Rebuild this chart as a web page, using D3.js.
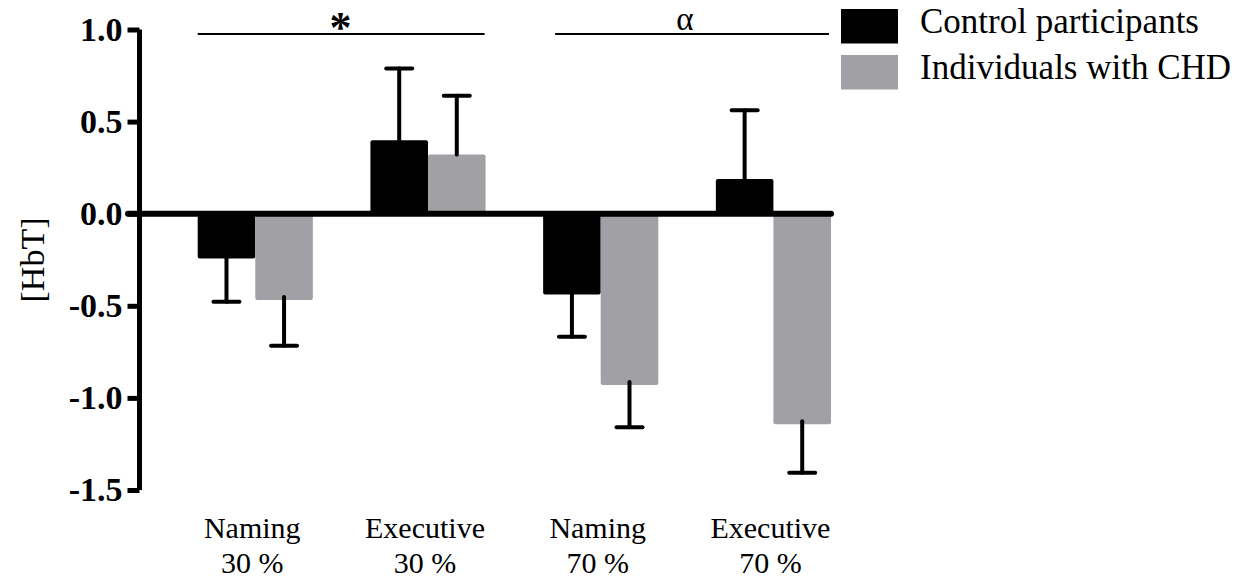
<!DOCTYPE html>
<html>
<head>
<meta charset="utf-8">
<script src="https://cdn.jsdelivr.net/npm/d3@7"></script>
<style>
  html, body { margin: 0; padding: 0; background: #fff; }
  svg { display: block; }
</style>
</head>
<body>
<svg id="chart" width="1260" height="582"></svg>
<script>
// Conditions (two-line category labels)
const categories = ["Naming 30", "Executive 30", "Naming 70", "Executive 70"];
const categoryLine1 = ["Naming", "Executive", "Naming", "Executive"];
const categoryLine2 = ["30 %", "30 %", "70 %", "70 %"];

// Groups
const groups = ["Control participants", "Individuals with CHD"];
const groupColors = ["#000000", "#a1a0a5"];

// Mean [HbT] change per condition
const controlMeans = [-0.243, 0.399, -0.438, 0.188];
const chdMeans = [-0.469, 0.322, -0.930, -1.143];

// Standard error (drawn away from zero)
const controlErr = [0.235, 0.389, 0.230, 0.374];
const chdErr = [0.248, 0.318, 0.230, 0.263];

// Y axis ticks
const yTicks = [1.0, 0.5, 0.0, -0.5, -1.0, -1.5];

// Significance brackets
const sigLabels = ["*", "α"];
const sigSpans = [["Naming 30", "Executive 30"], ["Naming 70", "Executive 70"]];

const svg = d3.select("#chart");
const serif = "'Liberation Serif', 'Times New Roman', Times, serif";

const y = d3.scaleLinear().domain([-1.5, 1.0]).range([490, 29.5]);
const x0 = d3.scaleBand().domain(categories).range([197.7, 831]).paddingInner(1 / 3).paddingOuter(0);
const x1 = d3.scaleBand().domain(groups).range([0, x0.bandwidth()]).padding(0);

const rows = categories.map((c, i) => ({
  cat: c,
  values: [
    { g: groups[0], v: controlMeans[i], e: controlErr[i] },
    { g: groups[1], v: chdMeans[i], e: chdErr[i] }
  ]
}));

// Bars
const gBars = svg.append("g");
rows.forEach(r => {
  r.values.forEach((d, k) => {
    const xl = x0(r.cat) + x1(d.g);
    const top = y(Math.max(0, d.v));
    const bot = y(Math.min(0, d.v));
    gBars.append("rect")
      .attr("x", xl)
      .attr("y", top)
      .attr("width", x1.bandwidth())
      .attr("height", bot - top)
      .attr("rx", 2)
      .attr("fill", groupColors[k]);
  });
});

// Error bars
const gErr = svg.append("g").attr("stroke", "#000").attr("stroke-width", 4).attr("stroke-linecap", "round");
rows.forEach(r => {
  r.values.forEach(d => {
    const cx = x0(r.cat) + x1(d.g) + x1.bandwidth() / 2;
    const end = d.v >= 0 ? d.v + d.e : d.v - d.e;
    gErr.append("line")
      .attr("x1", cx).attr("x2", cx)
      .attr("y1", y(d.v) + (d.v >= 0 ? 0 : -3)).attr("y2", y(end));
    gErr.append("line")
      .attr("x1", cx - 13).attr("x2", cx + 13)
      .attr("y1", y(end)).attr("y2", y(end));
  });
});

// Y axis
const yAxis = d3.axisLeft(y).tickValues(yTicks).tickFormat(d3.format(".1f")).tickSize(12).tickPadding(5).tickSizeOuter(0);
const gy = svg.append("g").attr("transform", "translate(139.5,0)").call(yAxis);
gy.select(".domain").attr("stroke", "#000").attr("stroke-width", 5).attr("d", `M0,${y(1.0)}V${y(-1.5)}`);
gy.selectAll(".tick line").attr("stroke", "#000").attr("stroke-width", 5);
gy.selectAll(".tick text")
  .attr("fill", "#000")
  .style("font-family", serif)
  .style("font-weight", "bold")
  .style("font-size", "34px")
  .text(d => d.toFixed(1).replace("\u2212", "-"));

// Zero line
svg.append("line")
  .attr("x1", 128).attr("x2", 831)
  .attr("y1", y(0)).attr("y2", y(0))
  .attr("stroke", "#000").attr("stroke-width", 6).attr("stroke-linecap", "round");

// Y label
svg.append("text")
  .attr("transform", `translate(44,260) rotate(-90)`)
  .attr("text-anchor", "middle")
  .style("font-family", serif)
  .style("font-size", "34px")
  .text("[HbT]");

// Category labels
categories.forEach((c, i) => {
  const cx = x0(c) + x0.bandwidth() / 2 - 3;
  const t = svg.append("text")
    .attr("text-anchor", "middle")
    .style("font-family", serif)
    .style("font-size", "30px");
  t.append("tspan").attr("x", cx).attr("y", 538).text(categoryLine1[i]);
  t.append("tspan").attr("x", cx).attr("y", 573).text(categoryLine2[i]);
});

// Significance lines and markers
sigSpans.forEach((s, i) => {
  const xa = x0(s[0]);
  const xb = i === 0 ? x0(s[1]) + x0.bandwidth() - 1 : x0(s[1]) + x0.bandwidth() - 2;
  svg.append("line")
    .attr("x1", i === 0 ? xa : xa + 12).attr("x2", xb)
    .attr("y1", 34).attr("y2", 34)
    .attr("stroke", "#000").attr("stroke-width", 2);
  svg.append("text")
    .attr("x", i === 0 ? 340.5 : 685)
    .attr("y", i === 0 ? 42 : 30)
    .attr("text-anchor", "middle")
    .style("font-family", serif)
    .style("font-weight", i === 0 ? "bold" : "normal")
    .style("font-size", i === 0 ? "44px" : "33px")
    .text(sigLabels[i]);
});

// Legend
groups.forEach((g, i) => {
  const ly = 9 + i * 46;
  svg.append("rect")
    .attr("x", 841).attr("y", ly)
    .attr("width", 57).attr("height", 34.5)
    .attr("fill", groupColors[i]);
  svg.append("text")
    .attr("x", 920).attr("y", ly + 24)
    .style("font-family", serif)
    .style("font-size", "35px")
    .text(g);
});
</script>
</body>
</html>
